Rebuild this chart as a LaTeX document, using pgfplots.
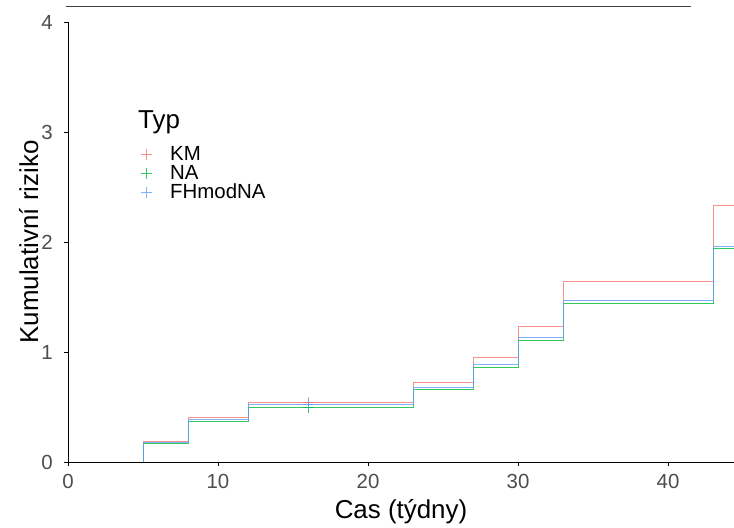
\documentclass[border=0pt]{standalone}
\usepackage{pgfplots}
\pgfplotsset{compat=1.18}
\usepackage{fontspec}
\setmainfont{Liberation Sans}
\definecolor{cKM}{HTML}{F8766D}
\definecolor{cNA}{HTML}{00BA38}
\definecolor{cFH}{HTML}{619CFF}
\definecolor{tickgrey}{HTML}{4D4D4D}
\begin{document}
\begin{tikzpicture}
\begin{axis}[
  name=ax,
  scale only axis, width=666bp, height=440bp,
  xmin=0, xmax=44.4, ymin=0, ymax=4,
  clip=false,
  axis x line*=bottom, axis y line*=left,
  xtick={0,10,20,30,40}, ytick={0,1,2,3,4},
  tick align=outside, major tick length=4bp,
  tick style={black, line width=0.9bp},
  axis line style={black, line width=0.9bp},
  ticklabel style={font=\fontsize{20.5}{20.5}\selectfont, text=tickgrey, inner sep=0pt},
  xticklabel style={yshift=-8.5bp},
  yticklabel style={xshift=-11bp},
  /pgf/number format/assume math mode=true,
  xlabel={Cas (týdny)}, ylabel={Kumulativní riziko},
  label style={font=\fontsize{26}{26}\selectfont},
  xlabel style={at={(axis description cs:0.5,-0.1136)}, anchor=center},
  ylabel style={at={(axis description cs:-0.059,0.5)}, anchor=center},
  legend style={at={(axis cs:4.8,2.85)}, anchor=north west, draw=none, fill=none,
    inner sep=0pt, row sep=3.8bp, font=\fontsize{20.5}{20.5}\selectfont,
    nodes={inner sep=0pt, text height=12bp, text depth=3bp}},
  legend cell align=left,
  legend image code/.code={\path[draw=none, fill=none] (0bp,-2bp) rectangle (30bp,2bp);
    \draw[#1, mark=+, mark size=5.5bp, mark options={solid}] plot coordinates {(6bp,1.5bp)};},
]
\addplot[cKM, line width=1bp, opacity=0.8, const plot, mark=none]
  coordinates {(5,0) (5,0.182) (8,0.406) (12,0.539) (23,0.721) (27,0.948) (30,1.230) (33,1.639) (43,2.336) (44.4,2.336)};
\addlegendentry{KM}
\addplot[cNA, line width=1bp, opacity=0.8, const plot, mark=none]
  coordinates {(5,0) (5,0.166) (8,0.370) (12,0.497) (23,0.661) (27,0.861) (30,1.109) (33,1.445) (43,1.942) (44.4,1.942)};
\addlegendentry{NA}
\addplot[cFH, line width=1bp, opacity=0.8, const plot, mark=none]
  coordinates {(5,0) (5,0.173) (8,0.388) (12,0.521) (23,0.679) (27,0.882) (30,1.130) (33,1.464) (43,1.957) (44.4,1.957)};
\addlegendentry{FHmodNA}
% censoring marks
\addplot[cKM, only marks, mark=+, mark size=5.5bp, line width=1bp, opacity=0.8, forget plot] coordinates {(16,0.539)};
\addplot[cNA, only marks, mark=+, mark size=5.5bp, line width=1bp, opacity=0.8, forget plot] coordinates {(16,0.497)};
\addplot[cFH, only marks, mark=+, mark size=5.5bp, line width=1bp, opacity=0.8, forget plot] coordinates {(16,0.521)};
% top line
\addplot[black!75, line width=0.9bp, forget plot] coordinates {(-0.15,4.14) (41.5,4.14)};
\node[anchor=base west, font=\fontsize{26}{26}\selectfont, inner sep=0pt] at (axis cs:4.67,3.031) {Typ};
\end{axis}
\pgfresetboundingbox
\path ([xshift=-68bp,yshift=-66bp]ax.south west) rectangle ([yshift=22bp]ax.north east);
\end{tikzpicture}
\end{document}
